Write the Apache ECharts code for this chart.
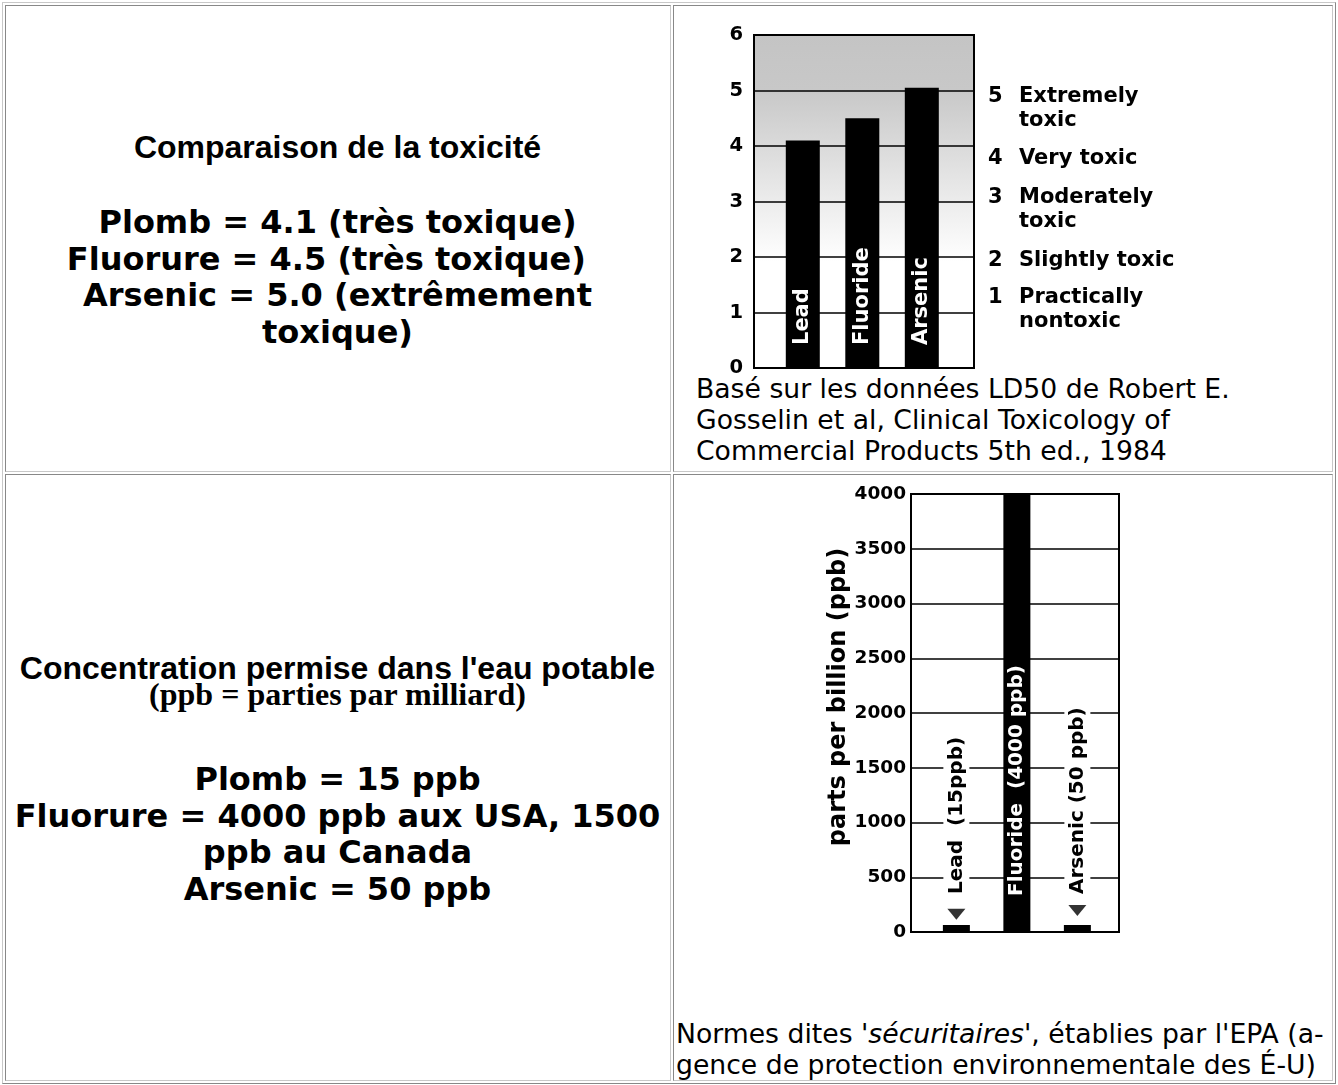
<!DOCTYPE html>
<html>
<head>
<meta charset="utf-8">
<script src="https://cdn.jsdelivr.net/npm/echarts@6/dist/echarts.min.js"></script>
<style>
html, body { margin: 0; padding: 0; background: #fff; width: 1338px; height: 1085px; overflow: hidden; }
.box { position: absolute; box-sizing: border-box; border-style: solid; border-width: 1px; }
.outer { left: 2px; top: 2px; width: 1334px; height: 1082px; border-color: #c8c8c8 #888 #888 #c8c8c8; }
.cell { border-color: #888 #c8c8c8 #c8c8c8 #888; }
.t { position: absolute; white-space: pre; color: #000; margin: 0; }
.ctr { left: 7px; width: 661px; text-align: center; }
.dv { font-family: 'DejaVu Sans'; font-weight: bold; font-size: 32px; line-height: 36.6px; }
.ar { font-family: 'Liberation Sans'; font-weight: bold; font-size: 32px; line-height: 37px; }
.tm { font-family: 'Liberation Serif'; font-weight: bold; font-size: 32px; line-height: 37px; }
.fn { font-family: 'DejaVu Sans'; font-size: 26.67px; line-height: 31px; }
#c1 { position: absolute; left: 674px; top: 6px; width: 658px; height: 372px; }
#c2 { position: absolute; left: 674px; top: 476px; width: 658px; height: 500px; }
</style>
</head>
<body>
<div class="box outer"></div>
<div class="box cell" style="left:5px;top:5px;width:666px;height:467px;"></div>
<div class="box cell" style="left:673px;top:5px;width:660px;height:467px;"></div>
<div class="box cell" style="left:5px;top:474px;width:666px;height:607px;"></div>
<div class="box cell" style="left:673px;top:474px;width:660px;height:607px;"></div>

<div class="t ctr ar" style="top:129px;">Comparaison de la toxicité</div>
<div class="t ctr dv" style="top:204px;">Plomb = 4.1 (très toxique)
Fluorure = 4.5 (très toxique)  
Arsenic = 5.0 (extrêmement
toxique)</div>

<div class="t ctr ar" style="top:650px;">Concentration permise dans l'eau potable</div>
<div class="t ctr tm" style="top:676px;">(ppb = parties par milliard)</div>
<div class="t ctr dv" style="top:761px;">Plomb = 15 ppb
Fluorure = 4000 ppb aux USA, 1500
ppb au Canada
Arsenic = 50 ppb</div>

<div class="t fn" style="left:696px;top:373px;">Basé sur les données LD50 de Robert E.
Gosselin et al, Clinical Toxicology of
Commercial Products 5th ed., 1984</div>

<div class="t fn" style="left:676px;top:1018px;">Normes dites '<i>sécuritaires</i>', établies par l'EPA (a-
gence de protection environnementale des É-U)</div>

<div id="c1"></div>
<div id="c2"></div>

<script>
// ---------- data: toxicity chart ----------
const toxCategories = ['Lead', 'Fluoride', 'Arsenic'];
const toxValues = [4.1, 4.5, 5.05];
const toxTicks = [0, 1, 2, 3, 4, 5, 6];
const toxScaleNumbers = ['5', '4', '3', '2', '1'];
const toxScaleNames = ['Extremely\ntoxic', 'Very toxic', 'Moderately\ntoxic', 'Slightly toxic', 'Practically\nnontoxic'];

// ---------- data: drinking water chart ----------
const ppbCategories = ['Lead', 'Fluoride', 'Arsenic'];
const ppbLabels = ['Lead  (15ppb)', 'Fluoride  (4000 ppb)', 'Arsenic (50 ppb)'];
const ppbValues = [15, 4000, 50];
const ppbTicks = [0, 500, 1000, 1500, 2000, 2500, 3000, 3500, 4000];
const ppbAxisName = 'parts per billion (ppb)';
const ppbMarked = ['Lead', 'Arsenic'];

const FONT = 'DejaVu Sans';

// ---------- chart 1 ----------
const c1 = echarts.init(document.getElementById('c1'), null, { renderer: 'canvas' });
const scaleTops = [79, 141, 180, 243, 280];
const scaleGraphics = [];
toxScaleNumbers.forEach((n, i) => {
  scaleGraphics.push({
    type: 'text', left: 314, top: scaleTops[i],
    style: { text: n, font: 'bold 21px "DejaVu Sans"', fill: '#000', lineHeight: 23.5 }
  });
  scaleGraphics.push({
    type: 'text', left: 345, top: scaleTops[i],
    style: { text: toxScaleNames[i], font: 'bold 21px "DejaVu Sans"', fill: '#000', lineHeight: 23.5 }
  });
});

c1.setOption({
  animation: false,
  grid: {
    left: 80, top: 29, width: 220, height: 333,
    containLabel: false, outerBoundsMode: 'none',
    show: true, borderColor: '#000', borderWidth: 2,
    backgroundColor: {
      type: 'linear', x: 0, y: 0, x2: 0, y2: 1,
      colorStops: [
        { offset: 0, color: '#c4c4c4' },
        { offset: 0.167, color: '#c8c8c8' },
        { offset: 0.5, color: '#ececec' },
        { offset: 0.68, color: '#ffffff' },
        { offset: 1, color: '#ffffff' }
      ]
    }
  },
  xAxis: {
    type: 'value', min: -0.82, max: 2.877,
    axisLine: { show: false }, axisTick: { show: false },
    axisLabel: { show: false }, splitLine: { show: false }
  },
  yAxis: {
    type: 'value',
    min: toxTicks[0], max: toxTicks[toxTicks.length - 1], interval: toxTicks[1] - toxTicks[0],
    axisLine: { show: false }, axisTick: { show: false },
    axisLabel: { color: '#000', fontFamily: FONT, fontWeight: 'bold', fontSize: 19.5, margin: 11 },
    splitLine: { lineStyle: { color: '#000', width: 1.5 } }
  },
  series: [{
    type: 'bar',
    barWidth: 34,
    itemStyle: { color: '#000' },
    data: toxValues.map((v, i) => [i, v]),
    label: {
      show: true,
      formatter: (p) => toxCategories[p.dataIndex],
      position: 'insideBottom', distance: 23, rotate: 90,
      align: 'left', verticalAlign: 'middle',
      color: '#fff', fontFamily: FONT, fontWeight: 'bold', fontSize: 21
    }
  }],
  graphic: scaleGraphics
});

// ---------- chart 2 ----------
const c2 = echarts.init(document.getElementById('c2'), null, { renderer: 'canvas' });
c2.setOption({
  animation: false,
  grid: {
    left: 237, top: 18, width: 208, height: 438,
    containLabel: false, outerBoundsMode: 'none',
    show: true, borderColor: '#000', borderWidth: 2, backgroundColor: '#fff'
  },
  xAxis: {
    type: 'value', min: -0.75, max: 2.688,
    axisLine: { show: false }, axisTick: { show: false },
    axisLabel: { show: false }, splitLine: { show: false }
  },
  yAxis: {
    type: 'value',
    min: ppbTicks[0], max: ppbTicks[ppbTicks.length - 1], interval: ppbTicks[1] - ppbTicks[0],
    name: ppbAxisName, nameLocation: 'middle', nameGap: 51,
    nameTextStyle: { color: '#000', fontFamily: FONT, fontWeight: 'bold', fontSize: 24, padding: [0, 0, 0, 32] },
    axisLine: { show: false }, axisTick: { show: false },
    axisLabel: {
      color: '#000', fontFamily: FONT, fontWeight: 'bold', fontSize: 18.5, margin: 5,
      formatter: (v) => String(v)
    },
    splitLine: { lineStyle: { color: '#000', width: 1.5 } }
  },
  series: [{
    type: 'bar',
    barWidth: 27,
    barMinHeight: 7,
    itemStyle: { color: '#000' },
    data: ppbValues.map((v, i) => {
      const marked = ppbMarked.indexOf(ppbCategories[i]) >= 0;
      return {
        value: [i, v],
        label: marked
          ? { color: '#000', backgroundColor: '#fff', padding: [3, 2] }
          : { color: '#fff' }
      };
    }),
    label: {
      show: true,
      formatter: (p) => ppbLabels[p.dataIndex],
      position: 'insideBottom', distance: 36, rotate: 90,
      align: 'left', verticalAlign: 'middle',
      fontFamily: FONT, fontWeight: 'bold', fontSize: 20
    }
  }, {
    type: 'scatter',
    symbol: 'triangle', symbolRotate: 180, symbolSize: [18, 11], symbolOffset: [0, -16],
    itemStyle: { color: '#000' },
    z: 5,
    data: ppbValues.map((v, i) => ppbMarked.indexOf(ppbCategories[i]) >= 0 ? [i, v] : null).filter(d => d)
  }]
});
</script>
</body>
</html>
